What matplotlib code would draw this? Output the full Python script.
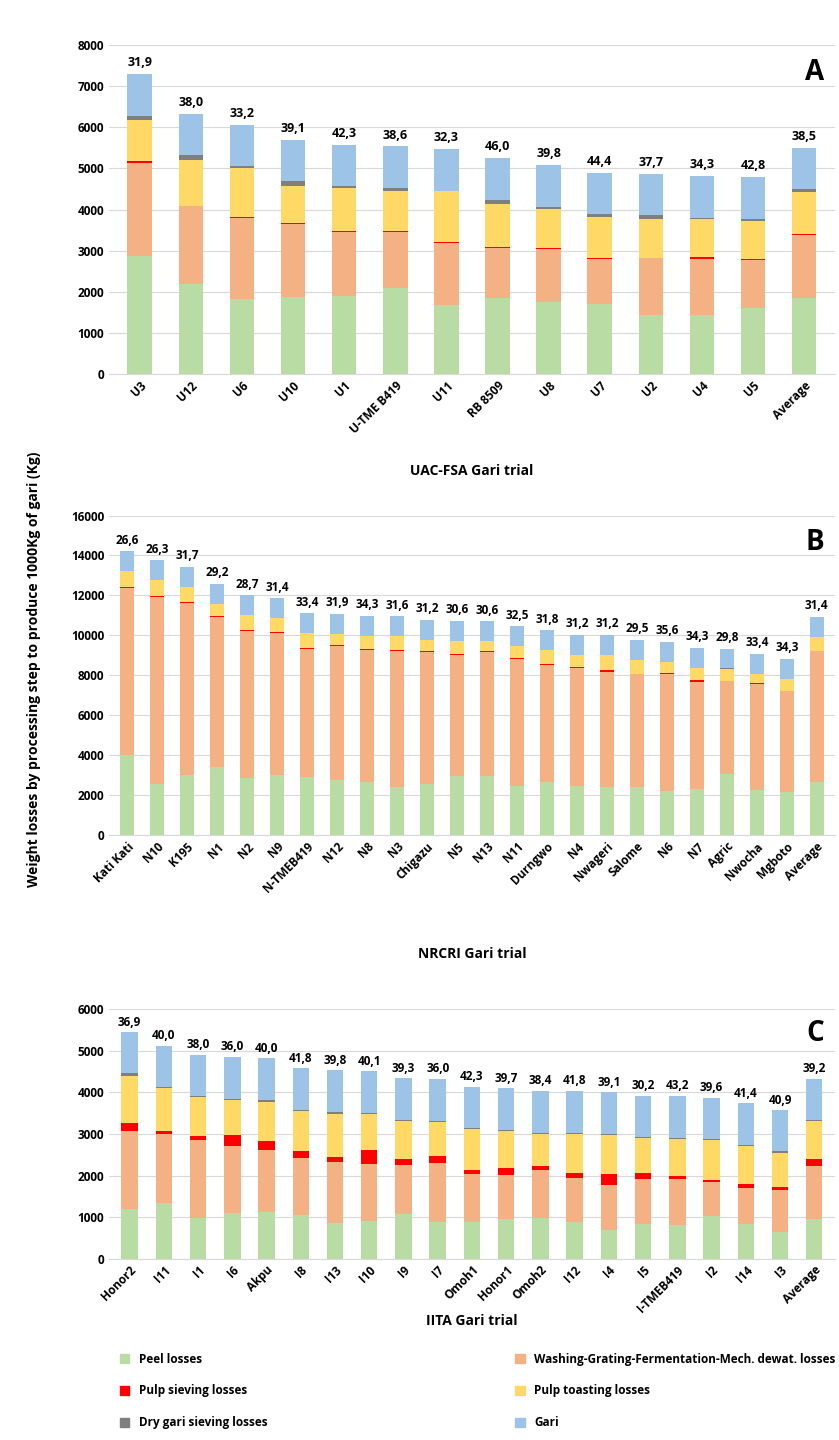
import matplotlib
matplotlib.use("Agg")
import matplotlib.pyplot as plt
import numpy as np

plt.rcParams['font.family'] = ['Open Sans', 'DejaVu Sans']

series = ['Peel losses', 'Washing-Grating-Fermentation-Mech. dewat. losses',
          'Pulp sieving losses', 'Pulp toasting losses',
          'Dry gari sieving losses', 'Gari']
colors = ['#b9dca4', '#f4b183', '#ff0000', '#ffd966', '#7f7f7f', '#9dc3e6']

# panel A: cumulative level at the top of each segment (kg)
a_names = ['U3', 'U12', 'U6', 'U10', 'U1', 'U-TME B419', 'U11', 'RB 8509', 'U8',
           'U7', 'U2', 'U4', 'U5', 'Average']
a_yield = ['31,9', '38,0', '33,2', '39,1', '42,3', '38,6', '32,3', '46,0', '39,8',
           '44,4', '37,7', '34,3', '42,8', '38,5']
a_peel = [2880, 2200, 1820, 1870, 1900, 2100, 1680, 1860, 1750, 1700, 1450, 1450, 1600, 1860]
a_wash = [5130, 4080, 3800, 3650, 3450, 3450, 3180, 3060, 3040, 2800, 2820, 2810, 2780, 3380]
a_sieve = [5170, 4090, 3830, 3680, 3470, 3470, 3200, 3090, 3060, 2820, 2830, 2840, 2810, 3400]
a_toast = [6180, 5200, 5000, 4580, 4510, 4460, 4450, 4130, 4010, 3830, 3760, 3760, 3720, 4420]
a_dry = [6270, 5320, 5050, 4680, 4560, 4520, 4460, 4230, 4070, 3880, 3860, 3800, 3780, 4490]
a_gari = [7280, 6320, 6060, 5680, 5560, 5530, 5460, 5240, 5070, 4890, 4870, 4810, 4790, 5500]

# panel B
b_names = ['Kati Kati', 'N10', 'K195', 'N1', 'N2', 'N9', 'N-TMEB419', 'N12', 'N8', 'N3',
           'Chigazu', 'N5', 'N13', 'N11', 'Durngwo', 'N4', 'Nwageri', 'Salome', 'N6',
           'N7', 'Agric', 'Nwocha', 'Mgboto', 'Average']
b_yield = ['26,6', '26,3', '31,7', '29,2', '28,7', '31,4', '33,4', '31,9', '34,3', '31,6',
           '31,2', '30,6', '30,6', '32,5', '31,8', '31,2', '31,2', '29,5', '35,6', '34,3',
           '29,8', '33,4', '34,3', '31,4']
b_peel = [4000, 2550, 3000, 3400, 2850, 3000, 2900, 2750, 2650, 2400, 2550, 2950, 2950,
          2450, 2650, 2450, 2400, 2400, 2200, 2300, 3050, 2250, 2150, 2650]
b_wash = [12350, 11900, 11600, 10900, 10200, 10100, 9300, 9450, 9250, 9200, 9180, 9000,
          9180, 8820, 8500, 8350, 8180, 8050, 8080, 7650, 7700, 7560, 7200, 9200]
b_sieve = [12420, 11980, 11650, 10980, 10280, 10160, 9360, 9500, 9300, 9260, 9220, 9050,
           9230, 8880, 8560, 8420, 8270, 8080, 8140, 7750, 7730, 7620, 7220, 9240]
b_toast = [13200, 12750, 12420, 11560, 11000, 10850, 10100, 10080, 9960, 9950, 9780, 9720,
           9700, 9450, 9250, 9030, 9030, 8760, 8660, 8360, 8340, 8080, 7830, 9920]
b_dry = [13210, 12760, 12430, 11570, 11010, 10860, 10110, 10090, 9970, 9960, 9790, 9730,
         9710, 9460, 9260, 9040, 9040, 8770, 8670, 8370, 8350, 8090, 7840, 9930]
b_gari = [14200, 13750, 13420, 12560, 12000, 11850, 11100, 11080, 10960, 10950, 10780,
          10720, 10700, 10450, 10250, 10030, 10030, 9760, 9660, 9360, 9340, 9080, 8830, 10920]

# panel C
c_names = ['Honor2', 'I11', 'I1', 'I6', 'Akpu', 'I8', 'I13', 'I10', 'I9', 'I7', 'Omoh1',
           'Honor1', 'Omoh2', 'I12', 'I4', 'I5', 'I-TMEB419', 'I2', 'I14', 'I3', 'Average']
c_yield = ['36,9', '40,0', '38,0', '36,0', '40,0', '41,8', '39,8', '40,1', '39,3', '36,0',
           '42,3', '39,7', '38,4', '41,8', '39,1', '30,2', '43,2', '39,6', '41,4', '40,9', '39,2']
c_peel = [1200, 1350, 980, 1100, 1130, 1050, 850, 900, 1070, 880, 880, 950, 980, 880, 680,
          830, 820, 1020, 830, 630, 950]
c_wash = [3080, 3000, 2860, 2720, 2620, 2420, 2330, 2270, 2250, 2290, 2030, 2010, 2130,
          1950, 1780, 1910, 1920, 1850, 1700, 1650, 2240]
c_sieve = [3270, 3070, 2960, 2970, 2830, 2600, 2450, 2610, 2390, 2470, 2140, 2170, 2240,
           2050, 2030, 2070, 1980, 1900, 1800, 1720, 2390]
c_toast = [4400, 4100, 3880, 3820, 3780, 3550, 3490, 3470, 3320, 3280, 3120, 3080, 3000,
           3000, 2970, 2900, 2880, 2850, 2700, 2550, 3310]
c_dry = [4460, 4130, 3910, 3850, 3820, 3590, 3520, 3500, 3340, 3320, 3150, 3100, 3020,
         3020, 2990, 2920, 2910, 2870, 2740, 2580, 3330]
c_gari = [5450, 5120, 4900, 4850, 4820, 4580, 4530, 4510, 4340, 4320, 4140, 4100, 4030,
          4030, 4000, 3920, 3910, 3870, 3740, 3570, 4330]


def panel(ax, names, yields, levels, ymax, step, letter, title, fs, title_y):
    x = np.arange(len(names))
    prev = np.zeros(len(names))
    for lev, col in zip(levels, colors):
        lev = np.array(lev, dtype=float)
        ax.bar(x, lev - prev, bottom=prev, width=0.48, color=col, edgecolor='none')
        prev = lev
    for xi, top, lab in zip(x, prev, yields):
        ax.text(xi, top + ymax * 0.015, lab, ha='center', va='bottom',
                fontsize=fs, fontweight='bold')
    ax.set_ylim(0, ymax)
    ax.set_yticks(np.arange(0, ymax + 1, step))
    ax.set_xlim(-0.6, len(names) - 0.4)
    ax.set_xticks(x)
    ax.set_xticklabels(names, rotation=45, ha='right', rotation_mode='anchor',
                       fontsize=8.5, fontweight='bold')
    for t in ax.get_yticklabels():
        t.set_fontweight('bold')
        t.set_fontsize(8.5)
    ax.grid(axis='y', color='#d9d9d9', linewidth=0.8)
    ax.set_axisbelow(True)
    for s in ['top', 'right', 'left']:
        ax.spines[s].set_visible(False)
    ax.spines['bottom'].set_color('#d9d9d9')
    ax.tick_params(length=0)
    ax.text(0.985, 0.96, letter, transform=ax.transAxes, ha='right', va='top',
            fontsize=20, fontweight='bold')
    ax.set_title(title, y=title_y, fontsize=10, fontweight='bold')


fig = plt.figure(figsize=(8.39, 14.4), dpi=100)
axA = fig.add_axes([0.13, 0.740, 0.865, 0.229])
axB = fig.add_axes([0.13, 0.420, 0.865, 0.222])
axC = fig.add_axes([0.13, 0.126, 0.865, 0.173])

panel(axA, a_names, a_yield, [a_peel, a_wash, a_sieve, a_toast, a_dry, a_gari],
      8000, 1000, 'A', 'UAC-FSA Gari trial', 9, -0.33)
panel(axB, b_names, b_yield, [b_peel, b_wash, b_sieve, b_toast, b_dry, b_gari],
      16000, 2000, 'B', 'NRCRI Gari trial', 8.5, -0.41)
panel(axC, c_names, c_yield, [c_peel, c_wash, c_sieve, c_toast, c_dry, c_gari],
      6000, 1000, 'C', 'IITA Gari trial', 8.5, -0.3)

fig.text(0.04, 0.535, 'Weight losses by processing step to produce 1000Kg of gari (Kg)',
         rotation=90, ha='center', va='center', fontsize=10, fontweight='bold')

handles = [plt.Rectangle((0, 0), 1, 1, color=c) for c in colors]
order = [0, 2, 4, 1, 3, 5]
fig.legend([handles[i] for i in order], [series[i] for i in order],
           loc='lower left', bbox_to_anchor=(0.13, 0.0),
           ncol=2, frameon=False, prop={'weight': 'bold', 'size': 8.5},
           handlelength=0.8, handleheight=0.8, columnspacing=21, labelspacing=1.6)

fig.savefig('out.png', dpi=100)
